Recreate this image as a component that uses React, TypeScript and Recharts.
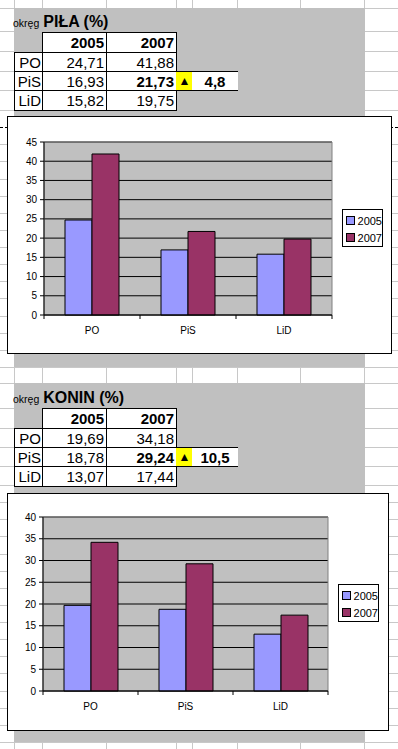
import React from 'react';
import {
  Bar,
  BarChart,
  CartesianGrid,
  Legend,
  ReferenceArea,
  XAxis,
  YAxis,
} from 'recharts';

// --- data ---
const parties = ['PO', 'PiS', 'LiD'];
const years = ['2005', '2007'];
const pila2005 = [24.71, 16.93, 15.82];
const pila2007 = [41.88, 21.73, 19.75];
const pilaChange = '4,8';
const konin2005 = [19.69, 18.78, 13.07];
const konin2007 = [34.18, 29.24, 17.44];
const koninChange = '10,5';
const pilaTicks = [0, 5, 10, 15, 20, 25, 30, 35, 40, 45];
const koninTicks = [0, 5, 10, 15, 20, 25, 30, 35, 40];

const seriesColors = ['#9999ff', '#993366'];

// --- sheet layout ---
const FONT = '"Liberation Sans", Arial, sans-serif';
const GRID = '#c8c8c8';
const SHEET_GRAY = '#c0c0c0';
const colLines = [14, 42, 106, 176, 192, 237, 300, 364];
const rowLines = [
  8, 31, 51, 71, 90, 110, 144, 161, 179, 196, 213, 230, 247, 264, 281, 298,
  316, 333, 350, 367, 383, 408, 428, 447, 466, 485, 502, 519, 536, 554, 571,
  588, 605, 622, 639, 656, 673, 691, 708, 725, 742,
];

const fmt = (v: number) => v.toFixed(2).replace('.', ',');

const buildRows = (a: number[], b: number[]) =>
  parties.map((name, i) => ({ name, y2005: a[i], y2007: b[i] }));

function CategoryTick(props: any) {
  const { x, y, payload, index, bandHalf } = props;
  const off = payload && typeof payload.offset === 'number' && payload.offset > 0 ? payload.offset : bandHalf;
  return (
    <g>
      <line x1={x - off} x2={x - off} y1={y} y2={y + 4} stroke="#000" />
      {index === parties.length - 1 && (
        <line x1={x + off} x2={x + off} y1={y} y2={y + 4} stroke="#000" />
      )}
      <text x={x} y={y + 19} textAnchor="middle" fontSize={10} fontFamily={FONT} fill="#000">
        {payload.value}
      </text>
    </g>
  );
}

function LegendBox(props: any) {
  const items = (props.payload && props.payload.length ? props.payload : years.map((y, i) => ({ value: y, color: seriesColors[i] })));
  return (
    <div
      style={{
        marginLeft: 10,
        width: 41,
        height: 38,
        boxSizing: 'border-box',
        border: '1px solid #000',
        background: '#fff',
        padding: '2px 0 0 3px',
        fontFamily: FONT,
        fontSize: 11,
        color: '#000',
      }}
    >
      {items.map((p: any) => (
        <div key={p.value} style={{ display: 'flex', alignItems: 'center', height: 17 }}>
          <span
            style={{
              display: 'inline-block',
              width: 7,
              height: 7,
              border: '1px solid #000',
              background: p.color,
              marginRight: 3,
            }}
          />
          {p.value}
        </div>
      ))}
    </div>
  );
}

interface ChartProps {
  left: number;
  top: number;
  width: number;
  height: number;
  data: { name: string; y2005: number; y2007: number }[];
  ticks: number[];
  margin: { top: number; right: number; bottom: number; left: number };
  yWidth: number;
  legendTop: number;
}

function DistrictChart({ left, top, width, height, data, ticks, margin, yWidth, legendTop }: ChartProps) {
  const max = ticks[ticks.length - 1];
  const plotW = width - margin.left - margin.right - yWidth - 51;
  const bandHalf = plotW / data.length / 2;
  return (
    <div
      style={{
        position: 'absolute',
        left,
        top,
        width,
        height,
        border: '1px solid #000',
        background: '#fff',
      }}
    >
      <BarChart width={width} height={height} data={data} margin={margin} barGap={0}>
        <CartesianGrid vertical={false} stroke="#000" fill={SHEET_GRAY} fillOpacity={1} />
        <ReferenceArea y1={0} y2={max} fill="none" stroke="#808080" ifOverflow="visible" />
        <XAxis
          dataKey="name"
          interval={0}
          axisLine={{ stroke: '#000' }}
          tickLine={false}
          tickSize={0}
          tickMargin={0}
          tick={<CategoryTick bandHalf={bandHalf} />}
        />
        <YAxis
          domain={[0, max]}
          ticks={ticks}
          interval={0}
          width={yWidth}
          axisLine={{ stroke: '#000' }}
          tickLine={{ stroke: '#000' }}
          tickSize={4}
          tickMargin={3}
          tick={{ fontSize: 10, fill: '#000', fontFamily: FONT }}
        />
        <Legend
          layout="vertical"
          align="right"
          verticalAlign="top"
          wrapperStyle={{ top: legendTop }}
          content={<LegendBox />}
        />
        <Bar dataKey="y2005" name={years[0]} fill={seriesColors[0]} stroke="#000" barSize={27} isAnimationActive={false} />
        <Bar dataKey="y2007" name={years[1]} fill={seriesColors[1]} stroke="#000" barSize={27} isAnimationActive={false} />
      </BarChart>
    </div>
  );
}

function Cell({ x0, x1, y0, y1, children, style }: any) {
  return (
    <div
      style={{
        position: 'absolute',
        left: x0,
        top: y0,
        width: x1 - x0 + 1,
        height: y1 - y0 + 1,
        boxSizing: 'border-box',
        border: '1px solid #000',
        background: '#fff',
        textAlign: 'right',
        paddingRight: 2,
        fontSize: 15,
        lineHeight: `${y1 - y0}px`,
        fontFamily: FONT,
        color: '#000',
        overflow: 'hidden',
        whiteSpace: 'nowrap',
        ...style,
      }}
    >
      {children}
    </div>
  );
}

function DistrictTable({ title, top, v2005, v2007, change }: { title: string; top: number; v2005: number[]; v2007: number[]; change: string }) {
  const rows = [top, top + 20, top + 39, top + 58, top + 78];
  const c = [14, 42, 106, 176, 192, 237];
  return (
    <>
      <div
        style={{
          position: 'absolute',
          left: 13,
          top: top - 19,
          display: 'flex',
          alignItems: 'baseline',
          fontFamily: FONT,
          color: '#000',
          lineHeight: '18px',
        }}
      >
        <span style={{ fontSize: 10.5, marginRight: 4 }}>okręg</span>
        <span style={{ fontSize: 16, fontWeight: 'bold' }}>{title}</span>
      </div>
      <Cell x0={c[1]} x1={c[2]} y0={rows[0]} y1={rows[1]} style={{ fontWeight: 'bold' }}>{years[0]}</Cell>
      <Cell x0={c[2]} x1={c[3]} y0={rows[0]} y1={rows[1]} style={{ fontWeight: 'bold' }}>{years[1]}</Cell>
      {parties.map((p, i) => (
        <React.Fragment key={p}>
          <Cell x0={c[0]} x1={c[1]} y0={rows[i + 1]} y1={rows[i + 2]} style={{ paddingRight: 1 }}>{p}</Cell>
          <Cell x0={c[1]} x1={c[2]} y0={rows[i + 1]} y1={rows[i + 2]}>{fmt(v2005[i])}</Cell>
          <Cell x0={c[2]} x1={c[3]} y0={rows[i + 1]} y1={rows[i + 2]} style={i === 1 ? { fontWeight: 'bold' } : undefined}>
            {fmt(v2007[i])}
          </Cell>
        </React.Fragment>
      ))}
      <Cell
        x0={c[3]}
        x1={c[4]}
        y0={rows[2]}
        y1={rows[3]}
        style={{ background: '#ffff00', borderLeft: 'none', borderRight: 'none', textAlign: 'center', paddingRight: 0, fontSize: 12 }}
      >
        ▲
      </Cell>
      <Cell
        x0={c[4]}
        x1={c[5]}
        y0={rows[2]}
        y1={rows[3]}
        style={{ borderLeft: 'none', borderRight: 'none', textAlign: 'center', paddingRight: 0, fontWeight: 'bold' }}
      >
        {change}
      </Cell>
    </>
  );
}

export default function App() {
  const pilaData = buildRows(pila2005, pila2007);
  const koninData = buildRows(konin2005, konin2007);
  return (
    <div
      style={{
        position: 'absolute',
        left: 0,
        top: 0,
        width: 398,
        height: 749,
        overflow: 'hidden',
        background: '#fff',
        fontFamily: FONT,
      }}
    >
      {colLines.map((x) => (
        <div key={'c' + x} style={{ position: 'absolute', left: x, top: 0, width: 1, height: 749, background: GRID }} />
      ))}
      {rowLines.map((y) => (
        <div key={'r' + y} style={{ position: 'absolute', left: 0, top: y, width: 398, height: 1, background: GRID }} />
      ))}
      <div style={{ position: 'absolute', left: 0, top: 127, width: 398, height: 0, borderTop: '1px dashed #000' }} />

      <div style={{ position: 'absolute', left: 14, top: 8, width: 351, height: 359, background: SHEET_GRAY }} />
      <div style={{ position: 'absolute', left: 14, top: 383, width: 351, height: 359, background: SHEET_GRAY }} />

      <DistrictTable title="PIŁA (%)" top={32} v2005={pila2005} v2007={pila2007} change={pilaChange} />
      <DistrictTable title="KONIN (%)" top={408} v2005={konin2005} v2007={konin2007} change={koninChange} />

      <DistrictChart
        left={7}
        top={116}
        width={383}
        height={236}
        data={pilaData}
        ticks={pilaTicks}
        margin={{ top: 25, right: 8, bottom: 8, left: 0 }}
        yWidth={36}
        legendTop={92}
      />
      <DistrictChart
        left={7}
        top={493}
        width={380}
        height={236}
        data={koninData}
        ticks={koninTicks}
        margin={{ top: 23, right: 9, bottom: 9, left: 0 }}
        yWidth={35}
        legendTop={90}
      />
    </div>
  );
}
